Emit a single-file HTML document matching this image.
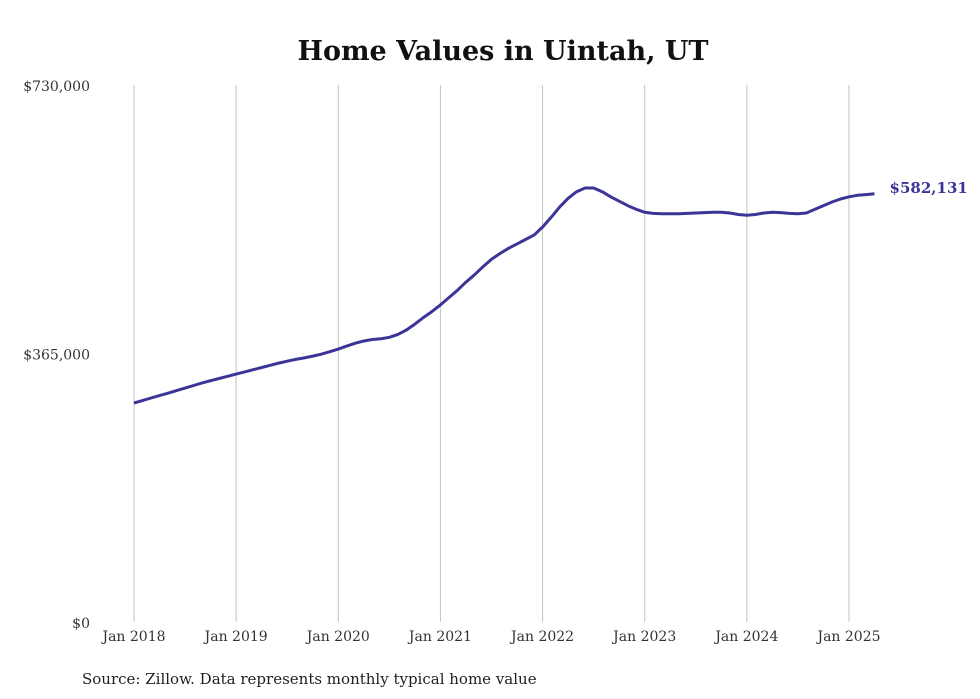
<!DOCTYPE html>
<html><head><meta charset="utf-8"><style>
body{margin:0;background:#fff;}
svg{display:block;font-family:"DejaVu Serif","Liberation Serif",serif;}
</style></head><body>
<svg id="chart" width="980" height="699" viewBox="0 0 980 699">
<text x="503" y="60" text-anchor="middle" font-size="27" font-weight="bold" fill="#111">Home Values in Uintah, UT</text>
<g id="grid"></g><g id="yaxis"></g><g id="xaxis"></g>
<path id="line" fill="none" stroke="#3b3597" stroke-width="3" stroke-linejoin="round"/>
<text id="endlabel" font-size="15" font-weight="bold" fill="#3b3597"></text>
<text x="82" y="684" font-size="15" fill="#222">Source: Zillow. Data represents monthly typical home value</text>
</svg>
<script>
const yTicks=[0,365000,730000];
const yTickLabels=["$0","$365,000","$730,000"];
const xTickLabels=["Jan 2018","Jan 2019","Jan 2020","Jan 2021","Jan 2022","Jan 2023","Jan 2024","Jan 2025"];
const xTickMonths=[0,12,24,36,48,60,72,84];
const values=[297.7,301,304.5,307.8,311,314.5,318,321.5,325,328,331,334,337,
340,343,346,349,352,354.5,357,359,361.5,364,367.5,371,
375,379,382,384,385,387,391,397,405,414,422,431,
441,451,462,472,483,493,501,508,514,520,526,537,
550,564,576,585,590,590,585,578,572,566,561,557,
555.5,555,555,555,555.5,556,556.5,557,557,556,554,553,
554,556,557,556.5,555.5,555,556,561,566,571,575,578,580,581,582.131].map(v=>v*1000);
const lastLabel="$582,131";
const NS="http://www.w3.org/2000/svg";
const x=m=>134+m*(715/84);
const y=v=>622-v/730000*537;
const g=document.getElementById('grid'),ya=document.getElementById('yaxis'),xa=document.getElementById('xaxis');
xTickMonths.forEach((m,i)=>{
 const l=document.createElementNS(NS,'line');
 l.setAttribute('x1',x(m));l.setAttribute('x2',x(m));l.setAttribute('y1',85);l.setAttribute('y2',622);
 l.setAttribute('stroke','#c4c4c4');l.setAttribute('stroke-width','1');
 
 
 g.appendChild(l);
 const t=document.createElementNS(NS,'text');
 t.setAttribute('x',x(m));t.setAttribute('y',641);t.setAttribute('text-anchor','middle');
 t.setAttribute('font-size','14');t.setAttribute('fill','#333');t.textContent=xTickLabels[i];
 
 
 xa.appendChild(t);
});
yTicks.forEach((v,i)=>{
 const t=document.createElementNS(NS,'text');
 t.setAttribute('x',90);t.setAttribute('y',y(v)+6);t.setAttribute('text-anchor','end');
 t.setAttribute('font-size','14');t.setAttribute('fill','#333');t.textContent=yTickLabels[i];
 
 
 ya.appendChild(t);
});
document.getElementById('line').setAttribute('d',values.map((v,i)=>(i?'L':'M')+x(i).toFixed(1)+','+y(v).toFixed(1)).join(''));
const n=values.length-1,el=document.getElementById('endlabel');
el.setAttribute('x',x(n)+15);el.setAttribute('y',y(values[n])-1);el.textContent=lastLabel;
</script>
</body></html>
